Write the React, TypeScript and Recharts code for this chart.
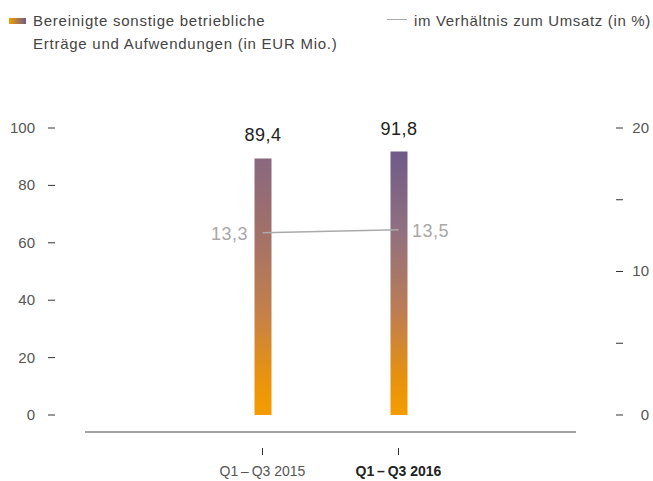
import React from 'react';
import { ComposedChart, Bar, Line, XAxis, YAxis, Cell, LabelList } from 'recharts';

const categories = ['Q1\u2009\u2013\u2009Q3 2015', 'Q1\u2009\u2013\u2009Q3 2016'];
const amounts = [89.4, 91.8];
const ratios = [13.3, 13.5];
const leftTicks = [0, 20, 40, 60, 80, 100];
const rightTicks = [0, 5, 10, 15, 20];
const rightLabelled = [0, 10, 20];

const data = categories.map((cat, i) => ({ cat, amount: amounts[i], ratio: ratios[i] }));
const fmt = (v: number) => v.toFixed(1).replace('.', ',');

const FONT = '"Liberation Sans", Arial, sans-serif';

const LeftTick = (props: any) => {
  const { x, y, payload } = props;
  return (
    <g>
      <line x1={x - 37} x2={x - 30} y1={y} y2={y} stroke="#333" strokeWidth={1} />
      <text x={x - 50} y={y + 5} textAnchor="end" fontSize={15} fill="#555" fontFamily={FONT}>
        {payload.value}
      </text>
    </g>
  );
};

const RightTick = (props: any) => {
  const { x, y, payload } = props;
  return (
    <g>
      <line x1={x + 40} x2={x + 47} y1={y} y2={y} stroke="#333" strokeWidth={1} />
      {rightLabelled.includes(payload.value) && (
        <text x={x + 73} y={y + 5} textAnchor="end" fontSize={15} fill="#555" fontFamily={FONT}>
          {payload.value}
        </text>
      )}
    </g>
  );
};

const XTick = (props: any) => {
  const { x, y, payload, index } = props;
  const bold = index === categories.length - 1;
  return (
    <g>
      <line x1={x} x2={x} y1={y + 16} y2={y + 23} stroke="#333" strokeWidth={1} />
      <text
        x={x}
        y={y + 44}
        textAnchor="middle"
        fontSize={14}
        fontWeight={bold ? 'bold' : 'normal'}
        fill={bold ? '#222' : '#555'}
        fontFamily={FONT}
      >
        {payload.value}
      </text>
    </g>
  );
};

const RatioLabel = (props: any) => {
  const { x, y, value, index } = props;
  const first = index === 0;
  return (
    <text
      x={first ? x - 14.5 : x + 13.5}
      y={y + 7}
      textAnchor={first ? 'end' : 'start'}
      fontSize={18}
      letterSpacing={0.5}
      fill="#a8a8a8"
      fontFamily={FONT}
    >
      {fmt(value)}
    </text>
  );
};

export default function App() {
  return (
    <div style={{ position: 'absolute', left: 0, top: 0, width: 653, height: 481, fontFamily: FONT, background: '#fff' }}>
      <div style={{ position: 'absolute', left: 9, top: 18, width: 17, height: 6, background: 'linear-gradient(to right, #f39c00, #6f5b88)' }} />
      <div style={{ position: 'absolute', left: 33, top: 8.5, fontSize: 15, lineHeight: '23px', color: '#444', letterSpacing: 0.75, whiteSpace: 'nowrap' }}>
        Bereinigte sonstige betriebliche
        <br />
        Erträge und Aufwendungen (in EUR Mio.)
      </div>
      <div style={{ position: 'absolute', left: 387, top: 18.5, width: 20, height: 1.5, background: '#aaa' }} />
      <div style={{ position: 'absolute', left: 414, top: 8.5, fontSize: 15, lineHeight: '23px', color: '#444', letterSpacing: 0.65, whiteSpace: 'nowrap' }}>
        im Verhältnis zum Umsatz (in %)
      </div>
      <div style={{ position: 'absolute', left: 0, top: 0 }}>
        <ComposedChart width={653} height={481} data={data} margin={{ top: 128, right: 0, bottom: 0, left: 0 }}>
          <defs>
            <linearGradient id="barGrad0" x1="0" y1="0" x2="0" y2="1">
              <stop offset="0" stopColor="#89687f" />
              <stop offset="0.3" stopColor="#a27168" />
              <stop offset="0.6" stopColor="#c4804a" />
              <stop offset="0.85" stopColor="#e8930f" />
              <stop offset="1" stopColor="#f49d00" />
            </linearGradient>
            <linearGradient id="barGrad1" x1="0" y1="0" x2="0" y2="1">
              <stop offset="0" stopColor="#6f5b88" />
              <stop offset="0.3" stopColor="#907080" />
              <stop offset="0.6" stopColor="#bc7c55" />
              <stop offset="0.85" stopColor="#e5910f" />
              <stop offset="1" stopColor="#f49d00" />
            </linearGradient>
          </defs>
          <XAxis
            dataKey="cat"
            height={49}
            padding={{ left: 109.5, right: 109.5 }}
            axisLine={{ stroke: '#444', strokeWidth: 1.2 }}
            tickLine={false}
            tickSize={0}
            tickMargin={0}
            tick={<XTick />}
            interval={0}
          />
          <YAxis
            yAxisId="left"
            orientation="left"
            width={85}
            domain={[-5.92, 100]}
            allowDataOverflow
            ticks={leftTicks}
            axisLine={false}
            tickLine={false}
            tickSize={0}
            tickMargin={0}
            tick={<LeftTick />}
            interval={0}
          />
          <YAxis
            yAxisId="right"
            orientation="right"
            width={77}
            domain={[-1.185, 20]}
            allowDataOverflow
            ticks={rightTicks}
            axisLine={false}
            tickLine={false}
            tickSize={0}
            tickMargin={0}
            tick={<RightTick />}
            interval={0}
          />
          <YAxis yAxisId="ratio" hide domain={[-0.59, 20.59]} allowDataOverflow />
          <Bar yAxisId="left" dataKey="amount" barSize={17} isAnimationActive={false}>
            {data.map((d, i) => (
              <Cell key={d.cat} fill={`url(#barGrad${i})`} />
            ))}
            <LabelList
              dataKey="amount"
              position="top"
              offset={17}
              formatter={(v: any) => fmt(Number(v))}
              style={{ fontSize: 18, fill: '#222', fontFamily: FONT, letterSpacing: 0.5 }}
            />
          </Bar>
          <Line
            yAxisId="ratio"
            dataKey="ratio"
            stroke="#aaa"
            strokeWidth={1.5}
            dot={false}
            activeDot={false}
            isAnimationActive={false}
          >
            <LabelList dataKey="ratio" content={<RatioLabel />} />
          </Line>
        </ComposedChart>
      </div>
    </div>
  );
}
